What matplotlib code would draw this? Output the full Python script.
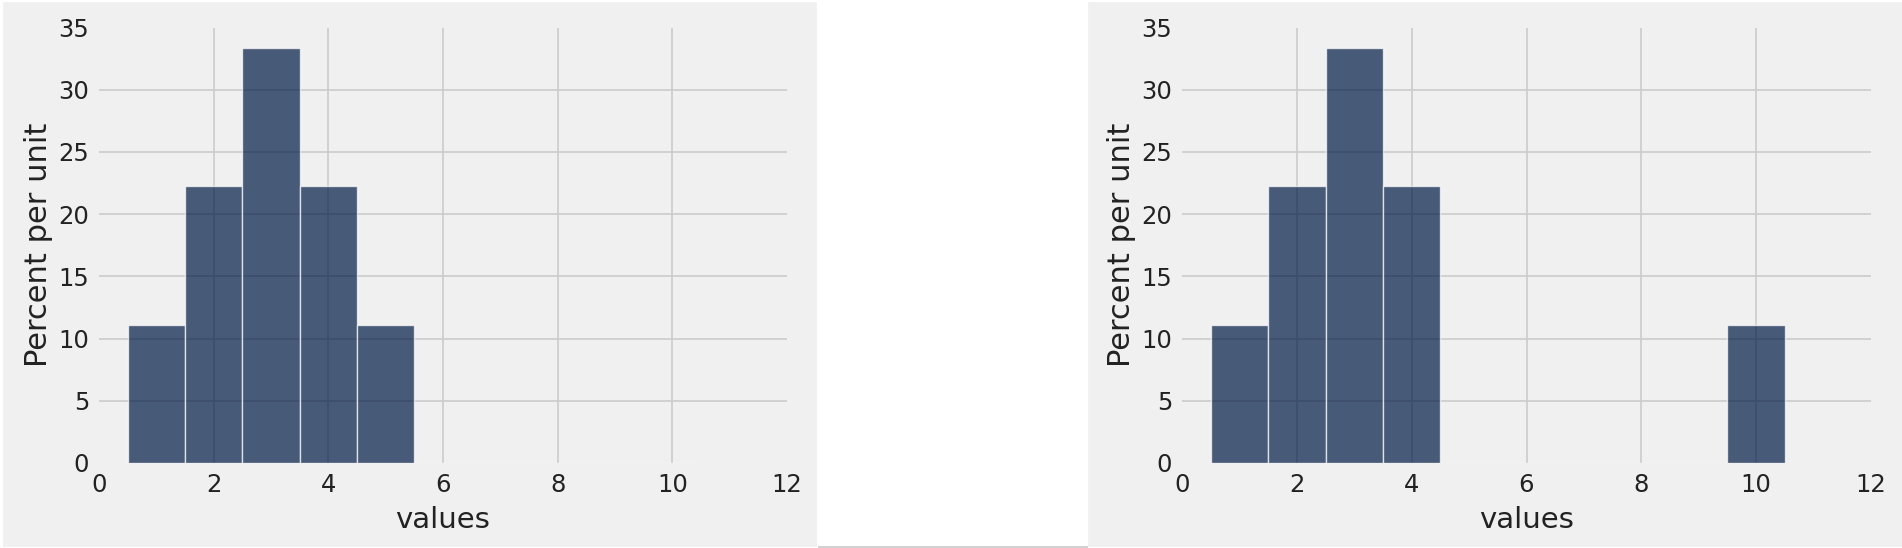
import matplotlib
matplotlib.use('Agg')
import matplotlib.pyplot as plt
from matplotlib.patches import Rectangle
from matplotlib.lines import Line2D
import numpy as np

# two small samples, the second one has an outlier at 10
values_left = [1, 2, 2, 3, 3, 3, 4, 4, 5]
values_right = [1, 2, 2, 3, 3, 3, 4, 4, 10]
bin_edges = np.arange(0.5, 11.5, 1.0)
xticks = [0, 2, 4, 6, 8, 10, 12]
yticks = [0, 5, 10, 15, 20, 25, 30, 35]

plt.style.use('fivethirtyeight')
plt.rcParams['font.family'] = ['DejaVu Sans']

W, H = 1902, 548
fig = plt.figure(figsize=(W / 100, H / 100), dpi=100, facecolor='white')

# grey panel behind each chart, white gap between them
panel_bg = '#f0f0f0'
fig.patches.append(Rectangle((3 / W, 2 / H), (816 - 3) / W, (546 - 2) / H,
                             transform=fig.transFigure, color=panel_bg, zorder=-10))
fig.patches.append(Rectangle((1088 / W, 2 / H), (W - 1088) / W, (546 - 2) / H,
                             transform=fig.transFigure, color=panel_bg, zorder=-10))
fig.lines.append(Line2D([818 / W, 1088 / W], [1.5 / H, 1.5 / H], transform=fig.transFigure,
                        color='#c8c8c8', lw=1.2, zorder=-10))


def draw(ax, vals):
    vals = np.asarray(vals)
    w = np.full(len(vals), 100.0 / len(vals))
    ax.hist(vals, bins=bin_edges, weights=w, color=(0.0, 0.102, 0.267), alpha=0.7,
            ec='w', lw=1)
    ax.set_xlim(0, 12)
    ax.set_ylim(0, 35)
    ax.set_xticks(xticks)
    ax.set_yticks(yticks)
    ax.tick_params(labelsize=17.5, colors='#222222', pad=7)
    ax.set_xlabel('values', fontsize=21, color='#222222', labelpad=7)
    ax.set_ylabel('Percent per unit', fontsize=22, color='#222222', labelpad=4)
    ax.set_facecolor(panel_bg)
    ax.grid(True, color='#cbcbcb', lw=1.2)
    ax.set_axisbelow(True)
    for s in ax.spines.values():
        s.set_visible(False)
    # no grid lines on the plot edges
    for t, gl in zip(xticks, ax.xaxis.get_gridlines()):
        if t in (0, 12):
            gl.set_visible(False)
    for t, gl in zip(yticks, ax.yaxis.get_gridlines()):
        if t in (0, 35):
            gl.set_visible(False)


top, bot = 27.5, 463
ax1 = fig.add_axes([99 / W, (H - bot) / H, (787 - 99) / W, (bot - top) / H])
draw(ax1, values_left)
ax2 = fig.add_axes([1182 / W, (H - bot) / H, (1871 - 1182) / W, (bot - top) / H])
draw(ax2, values_right)

fig.savefig('out.png', dpi=100, facecolor='white')
